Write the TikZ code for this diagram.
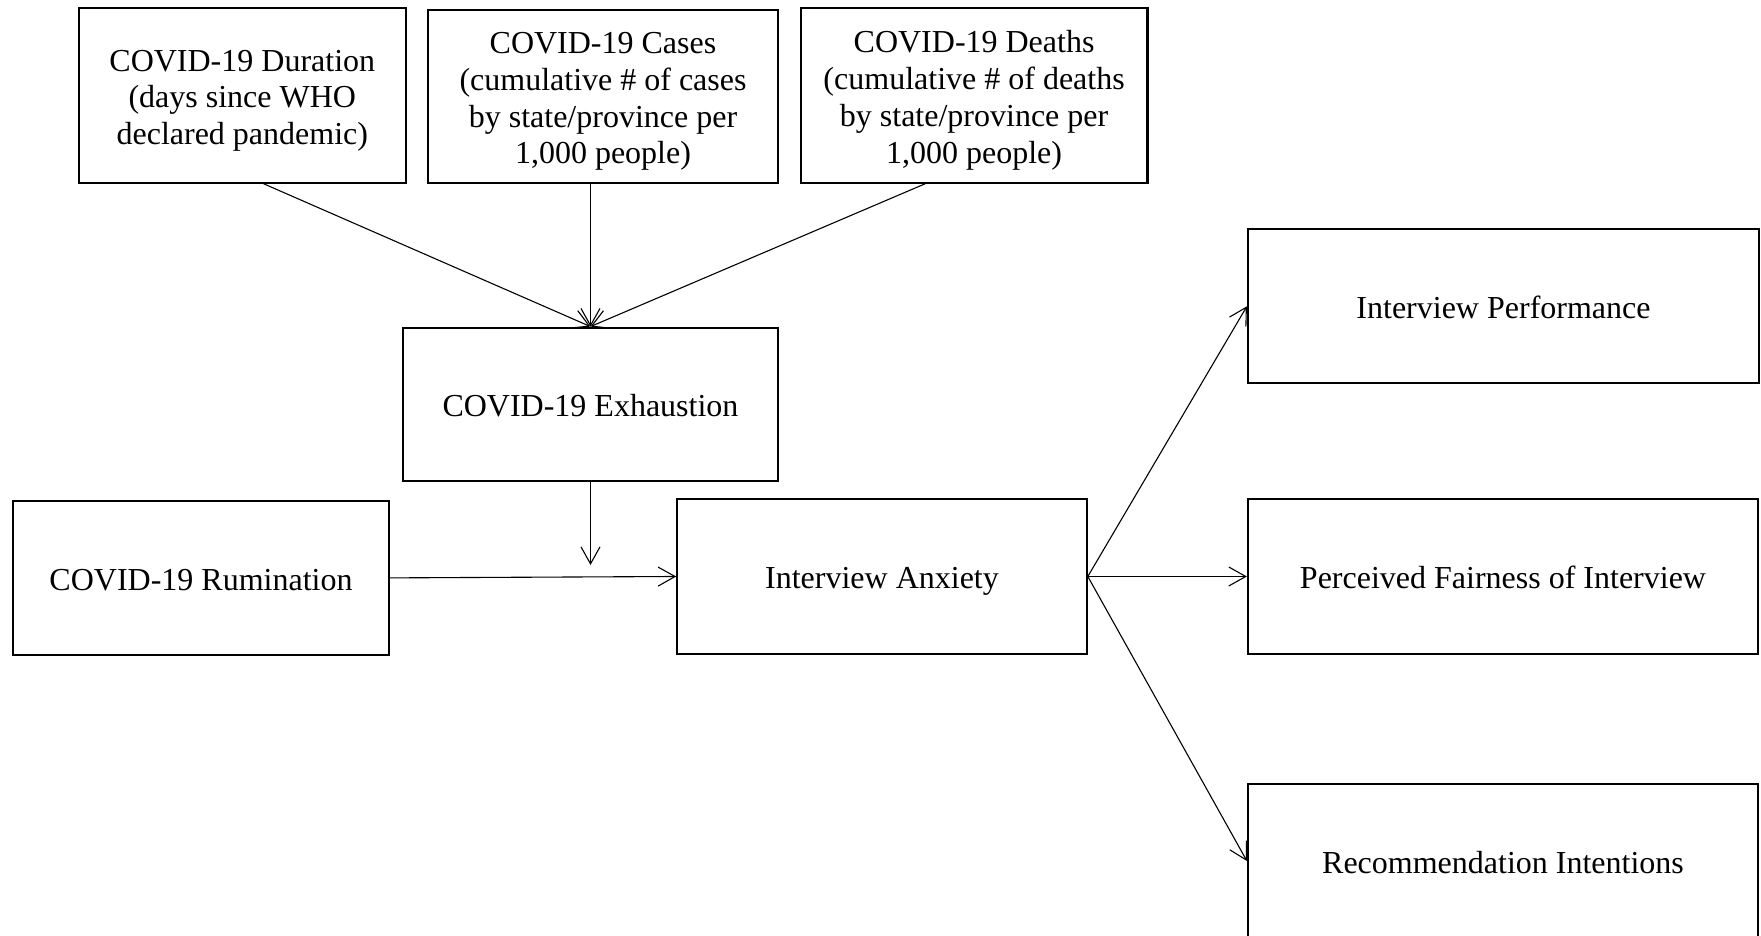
\documentclass[tikz,border=0pt]{standalone}
\usepackage{fontspec}
\setmainfont{Liberation Serif}
\usetikzlibrary{arrows.meta}
\newcommand\boxtext[1]{\raisebox{-5pt}[\height][\depth]{\begin{tabular}{@{}c@{}}#1\end{tabular}}}
\begin{document}
\begin{tikzpicture}[x=1pt,y=1pt,
  box/.style={draw, line width=2.2pt, inner sep=0pt,
    font=\fontsize{32pt}{36.8pt}\selectfont},
  conn/.style={line width=1.1pt, -{Straight Barb[length=17pt,width=19pt,line width=1.1pt]}}]
\useasboundingbox (0,0) rectangle (1761,936);
\node[box, minimum width=327.4pt, minimum height=174.4pt] (dur) at (242.3,840.5)
  {\boxtext{COVID-19 Duration\\(days since WHO\\declared pandemic)}};
\node[box, minimum width=350pt, minimum height=172.7pt] (cas) at (603,839.7)
  {\boxtext{COVID-19 Cases\\(cumulative \# of cases\\by state/province per\\1,000 people)}};
\node[box, minimum width=346.6pt, minimum height=174.4pt] (dth) at (974.1,840.5)
  {\boxtext{COVID-19 Deaths\\(cumulative \# of deaths\\by state/province per\\1,000 people)}};
\node[box, minimum width=375pt, minimum height=153.6pt] (exh) at (590.5,531.5)
  {\boxtext{COVID-19 Exhaustion}};
\node[box, minimum width=376pt, minimum height=154.3pt] (rum) at (201,358.1)
  {\boxtext{COVID-19 Rumination}};
\node[box, minimum width=409.4pt, minimum height=154.4pt] (anx) at (882,359.5)
  {\boxtext{Interview Anxiety}};
\node[box, minimum width=511pt, minimum height=154pt] (perf) at (1503.5,629.7)
  {\boxtext{Interview Performance}};
\node[box, minimum width=510pt, minimum height=154.4pt] (fair) at (1503,359.5)
  {\boxtext{Perceived Fairness of Interview}};
\node[box, minimum width=510pt, minimum height=154pt] (rec) at (1503,75)
  {\boxtext{Recommendation Intentions}};
\coordinate (mod) at (590.5,371);
\draw[conn] ([xshift=21.4pt]dur.south) -- (exh.north);
\draw[conn] (exh.north |- cas.south) -- (exh.north);
\draw[conn] ([xshift=-49pt]dth.south) -- (exh.north);
\draw[conn] (exh.south) -- (mod);
\draw[conn] (rum.east) -- (anx.west);
\draw[conn] (anx.east) -- (perf.west);
\draw[conn] (anx.east) -- (fair.west);
\draw[conn] (anx.east) -- (rec.west);
\end{tikzpicture}
\end{document}
